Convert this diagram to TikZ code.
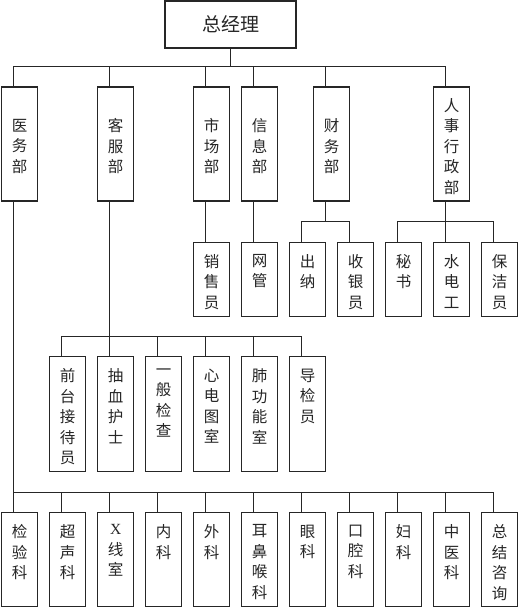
\documentclass[tikz,border=0pt]{standalone}
\usepackage{fontspec}
\setmainfont{Noto Sans CJK SC}
\newfontfamily\latinserif{Liberation Serif}
\usetikzlibrary{calc}
\newcommand\tbox[2]{\parbox[c][#1][t]{36pt}{\centering\vspace*{12pt}#2}}
\newcommand\cbox[2]{\parbox[c][#1][c]{36pt}{\centering\vspace*{5pt}#2}}
\begin{document}
\begin{tikzpicture}[x=1pt,y=-1pt,
  every node/.style={text=black!85},
  box/.style={draw=black!85, line width=1.3pt, inner sep=0pt, outer sep=0pt, anchor=north west},
  con/.style={draw=black!85, line width=1pt},
  font=\fontsize{15.5}{20.5}\selectfont]
\useasboundingbox[fill=white] (0,0) rectangle (518,609);
% top
\node[draw=black!85, line width=1.3pt, minimum width=131pt, minimum height=47pt, inner sep=0pt,
      font=\fontsize{19}{22}\selectfont] (gm) at (230.5,24.5) {总经理};
% level 2
\node[box] (yw) at (1.7,87)   {\cbox{114pt}{医\\务\\部}};
\node[box] (kf) at (97.7,87)  {\cbox{114pt}{客\\服\\部}};
\node[box] (sc) at (193.7,87) {\cbox{114pt}{市\\场\\部}};
\node[box] (xx) at (241.7,87) {\cbox{114pt}{信\\息\\部}};
\node[box] (cw) at (313.7,87) {\cbox{114pt}{财\\务\\部}};
\node[box] (rs) at (433.7,87) {\cbox{114pt}{人\\事\\行\\政\\部}};
% level 3a
\node[box] (xs) at (193.7,242.3) {\tbox{74.4pt}{销\\售\\员}};
\node[box] (wg) at (241.7,242.3) {\tbox{74.4pt}{网\\管}};
\node[box] (cn) at (289.7,242.3) {\tbox{74.4pt}{出\\纳}};
\node[box] (sy) at (337.7,242.3) {\tbox{74.4pt}{收\\银\\员}};
\node[box] (ms) at (385.7,242.3) {\tbox{74.4pt}{秘\\书}};
\node[box] (sd) at (433.7,242.3) {\tbox{74.4pt}{水\\电\\工}};
\node[box] (bj) at (481.7,242.3) {\tbox{74.4pt}{保\\洁\\员}};
% level 3b
\node[box] (qt) at (49.7,356.7)  {\tbox{115pt}{前\\台\\接\\待\\员}};
\node[box] (cx) at (97.7,356.7)  {\tbox{115pt}{抽\\血\\护\\士}};
\node[box] (yb) at (145.7,356.7) {\tbox{115pt}{一\\般\\检\\查}};
\node[box] (xd) at (193.7,356.7) {\tbox{115pt}{心\\电\\图\\室}};
\node[box] (fg) at (241.7,356.7) {\tbox{115pt}{肺\\功\\能\\室}};
\node[box] (dj) at (289.7,356.7) {\tbox{115pt}{导\\检\\员}};
% bottom row
\node[box] (jy) at (1.7,512.7)   {\tbox{94pt}{检\\验\\科}};
\node[box] (cs) at (49.7,512.7)  {\tbox{94pt}{超\\声\\科}};
\node[box] (xg) at (97.7,512.7)  {\tbox{94pt}{{\latinserif X}\\线\\室}};
\node[box] (nk) at (145.7,512.7) {\tbox{94pt}{内\\科}};
\node[box] (wk) at (193.7,512.7) {\tbox{94pt}{外\\科}};
\node[box] (eb) at (241.7,512.7) {\tbox{94pt}{耳\\鼻\\喉\\科}};
\node[box] (yk) at (289.7,512.7) {\tbox{94pt}{眼\\科}};
\node[box] (kq) at (337.7,512.7) {\tbox{94pt}{口\\腔\\科}};
\node[box] (fk) at (385.7,512.7) {\tbox{94pt}{妇\\科}};
\node[box] (zy) at (433.7,512.7) {\tbox{94pt}{中\\医\\科}};
\node[box] (zj) at (481.7,512.7) {\tbox{94pt}{总\\结\\咨\\询}};
% connectors: general manager
\foreach \c in {yw,kf,sc,xx,cw,rs}
  \draw[con] (gm.south) -- ++(0,18) -| ($(\c.north west)+(12,0)$);
% medical department
\foreach \c in {jy,cs,xg,nk,wk,eb,yk,kq,fk,zy,zj}
  \draw[con] ($(yw.south west)+(12,0)$) -- ++(0,291.3) -| ($(\c.north west)+(12,0)$);
% customer service
\foreach \c in {qt,cx,yb,xd,fg,dj}
  \draw[con] ($(kf.south west)+(12,0)$) -- ++(0,135) -| ($(\c.north west)+(12,0)$);
% marketing, IT
\draw[con] ($(sc.south west)+(12,0)$) -- ($(xs.north west)+(12,0)$);
\draw[con] ($(xx.south west)+(12,0)$) -- ($(wg.north west)+(12,0)$);
% finance
\foreach \c in {cn,sy}
  \draw[con] ($(cw.south west)+(12,0)$) -- ++(0,20.7) -| ($(\c.north west)+(12,0)$);
% HR / admin
\foreach \c in {ms,sd,bj}
  \draw[con] ($(rs.south west)+(12,0)$) -- ++(0,20.7) -| ($(\c.north west)+(12,0)$);
\end{tikzpicture}
\end{document}
